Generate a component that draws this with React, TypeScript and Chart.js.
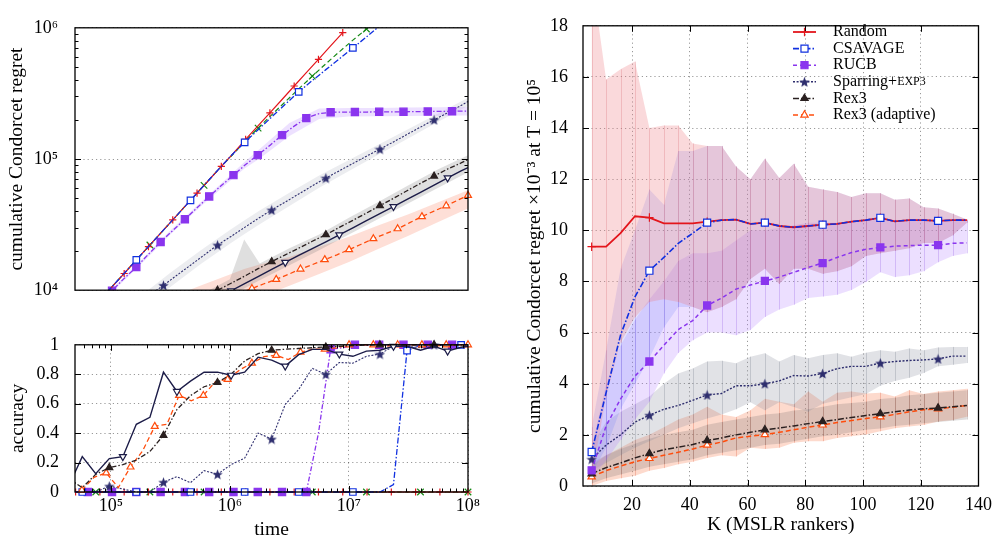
import React, { useEffect, useRef } from "react";
import { Chart, registerables } from "chart.js";
import { drawPoint } from "chart.js/helpers";

Chart.register(...registerables);

const FONT = "'Liberation Serif', 'Times New Roman', serif";

// ---------------- time grids (log10 of time) ----------------
const LOGT_C = [4.646, 4.760, 4.873, 4.987, 5.101, 5.214, 5.328, 5.442, 5.555, 5.669, 5.783, 5.896, 6.010, 6.124, 6.237, 6.351, 6.465, 6.578, 6.692, 6.806, 6.919, 7.033, 7.147, 7.260, 7.374, 7.488, 7.601, 7.715, 7.829, 7.942, 8.000];
const LOGT_F = [4.704, 4.806, 4.908, 5.010, 5.112, 5.214, 5.316, 5.418, 5.520, 5.622, 5.724, 5.826, 5.928, 6.030, 6.132, 6.234, 6.336, 6.438, 6.540, 6.642, 6.744, 6.846, 6.948, 7.050, 7.152, 7.254, 7.356, 7.458, 7.560, 7.662, 7.764, 7.866, 8.000];
const LOGT_G = [4.757, 4.859, 4.961, 5.063, 5.165, 5.267, 5.369, 5.471, 5.573, 5.675, 5.777, 5.879, 5.981, 6.083, 6.185, 6.287, 6.389, 6.491, 6.593, 6.695, 6.797, 6.899, 7.001, 7.103, 7.205, 7.307, 7.409, 7.511, 7.613, 7.715, 7.817, 7.919, 8.000];
const LOGT_BAND = [4.65, 5.0, 5.25, 5.5, 5.75, 6.0, 6.12, 6.25, 6.5, 6.75, 7.0, 7.25, 7.5, 7.75, 8.0];

// ---------------- top-left: cumulative regret ----------------
const REGRET_RANDOM = [5.25e3, 6.64e3, 8.39e3, 1.06e4, 1.34e4, 1.70e4, 2.15e4, 2.72e4, 3.44e4, 4.35e4, 5.50e4, 6.95e4, 8.79e4, 1.11e5, 1.41e5, 1.78e5, 2.25e5, 2.84e5, 3.60e5, 4.55e5, 5.75e5, 7.28e5, 9.20e5, null, null, null, null, null, null, null, null, null, null];
const REGRET_RUCB = [5.5e3, 6.6e3, 8.0e3, 9.9e3, 1.23e4, 1.50e4, 1.88e4, 2.33e4, 2.85e4, 3.47e4, 4.25e4, 5.18e4, 6.28e4, 7.53e4, 9.08e4, 1.07e5, 1.27e5, 1.52e5, 1.78e5, 2.05e5, 2.21e5, 2.27e5, 2.28e5, 2.28e5, 2.28e5, 2.29e5, 2.29e5, 2.29e5, 2.30e5, 2.30e5, 2.31e5, 2.31e5, 2.32e5];
const REGRET_CSAVAGE = [4.59e3, 5.97e3, 7.74e3, 1.01e4, 1.31e4, 1.70e4, 2.21e4, 2.87e4, 3.72e4, 4.84e4, 6.30e4, 8.17e4, 1.06e5, 1.34e5, 1.67e5, 2.09e5, 2.61e5, 3.25e5, 3.96e5, 4.80e5, 5.79e5, 7.02e5, 8.51e5, 1.04e6, null, null, null, null, null, null, null];
const REGRET_GREEN = [4.59e3, 5.97e3, 7.74e3, 1.01e4, 1.31e4, 1.70e4, 2.21e4, 2.87e4, 3.72e4, 4.84e4, 6.30e4, 8.17e4, 1.05e5, 1.35e5, 1.72e5, 2.17e5, 2.73e5, 3.42e5, 4.28e5, 5.32e5, 6.56e5, 8.05e5, 9.79e5, 1.19e6, null, null, null, null, null, null, null];
const REGRET_SPARRING = [3.2e3, 3.8e3, 4.6e3, 5.5e3, 6.5e3, 7.7e3, 9.2e3, 1.09e4, 1.30e4, 1.55e4, 1.85e4, 2.21e4, 2.57e4, 3.01e4, 3.52e4, 4.09e4, 4.70e4, 5.41e4, 6.24e4, 7.16e4, 8.13e4, 9.25e4, 1.05e5, 1.19e5, 1.35e5, 1.54e5, 1.75e5, 1.99e5, 2.25e5, 2.56e5, 2.74e5];
const REGRET_REX3 = [2.6e3, 3.0e3, 3.3e3, 3.7e3, 4.2e3, 4.7e3, 5.4e3, 6.1e3, 6.9e3, 7.8e3, 8.8e3, 9.98e3, 1.13e4, 1.28e4, 1.46e4, 1.65e4, 1.86e4, 2.09e4, 2.36e4, 2.65e4, 3.01e4, 3.41e4, 3.87e4, 4.41e4, 5.01e4, 5.73e4, 6.52e4, 7.41e4, 8.39e4, 9.33e4, 9.91e4];
const REGRET_REX3_INV = [2.2e3, 2.5e3, 2.9e3, 3.2e3, 3.7e3, 4.2e3, 4.7e3, 5.4e3, 6.0e3, 6.8e3, 7.8e3, 8.7e3, 9.9e3, 1.12e4, 1.27e4, 1.44e4, 1.63e4, 1.84e4, 2.07e4, 2.34e4, 2.64e4, 2.99e4, 3.39e4, 3.84e4, 4.34e4, 4.92e4, 5.57e4, 6.31e4, 7.18e4, 8.13e4, 8.61e4];
const REGRET_ADAPTIVE = [3.2e3, 3.5e3, 3.8e3, 4.2e3, 4.5e3, 4.9e3, 5.4e3, 5.8e3, 6.3e3, 6.9e3, 7.5e3, 8.1e3, 8.8e3, 9.5e3, 1.03e4, 1.12e4, 1.21e4, 1.32e4, 1.45e4, 1.57e4, 1.71e4, 1.86e4, 2.04e4, 2.24e4, 2.47e4, 2.69e4, 2.94e4, 3.27e4, 3.64e4, 4.01e4, 4.40e4, 4.88e4, 5.28e4];

const RUCB_HI = [5.07e3, 1.01e4, 1.68e4, 2.85e4, 4.65e4, 7.50e4, 9.44e4, 1.19e5, 1.88e5, 2.43e5, 2.45e5, 2.45e5, 2.47e5, 2.48e5, 2.50e5];
const RUCB_LO = [4.73e3, 9.44e3, 1.57e4, 2.66e4, 4.30e4, 6.81e4, 8.41e4, 1.01e5, 1.50e5, 2.02e5, 2.11e5, 2.12e5, 2.13e5, 2.14e5, 2.15e5];
const SPARRING_HI = [3.59e3, 6.24e3, 9.02e3, 1.36e4, 2.0e4, 2.88e4, 3.40e4, 4.05e4, 5.52e4, 7.48e4, 9.84e4, 1.29e5, 1.69e5, 2.22e5, 2.93e5];
const SPARRING_LO = [2.82e3, 4.9e3, 7.08e3, 1.06e4, 1.57e4, 2.26e4, 2.67e4, 3.18e4, 4.39e4, 6.03e4, 8.09e4, 1.08e5, 1.44e5, 1.92e5, 2.55e5];
const REX3_HI = [2.85e3, 4.07e3, 5.31e3, 7.0e3, 9.2e3, 1.21e4, 2.43e4, 1.60e4, 2.09e4, 2.66e4, 3.56e4, 4.73e4, 6.31e4, 8.36e4, 1.07e5];
const REX3_LO = [2.07e3, 2.99e3, 3.94e3, 5.19e3, 6.76e3, 9.02e3, 1.03e4, 1.19e4, 1.55e4, 2.02e4, 2.66e4, 3.51e4, 4.59e4, 6.05e4, 7.94e4];
const ADAPTIVE_HI = [4.37e3, 5.75e3, 7.16e3, 8.81e3, 1.08e4, 1.32e4, 1.45e4, 1.57e4, 1.79e4, 2.14e4, 2.56e4, 3.13e4, 3.80e4, 4.69e4, 5.79e4];
const ADAPTIVE_LO = [2.4e3, 3.16e3, 3.94e3, 4.84e3, 5.96e3, 7.24e3, 7.98e3, 8.83e3, 1.08e4, 1.33e4, 1.64e4, 2.07e4, 2.60e4, 3.31e4, 4.20e4];

// ---------------- bottom-left: accuracy ----------------
const ACC_RANDOM = [0, 0, 0, 0, 0, 0, 0, 0, 0, 0, 0, 0, 0, 0, 0, 0, 0, 0, 0, 0, 0, 0, 0, 0, 0, 0, 0, 0, 0, 0, 0, 0, 0];
const ACC_RUCB = [0, 0, 0, 0, 0, 0, 0, 0, 0, 0, 0, 0, 0, 0, 0, 0, 0, 0, 0, 0, 0.40, 0.97, 0.98, 1, 1, 1, 1, 1, 1, 1, 1, 1, 1];
const ACC_CSAVAGE = [0, 0, 0, 0, 0, 0, 0, 0, 0, 0, 0, 0, 0, 0, 0, 0, 0, 0, 0, 0, 0, 0, 0, 0, 0.05, 0.96, 1, 1, 1, 1, 1];
const ACC_GREEN = [0, 0, 0, 0, 0, 0, 0, 0, 0, 0, 0, 0, 0, 0, 0, 0, 0, 0, 0, 0, 0, 0, 0, 0, 0, 0, 0, 0, 0, 0, 0];
const ACC_SPARRING = [0, 0, 0, 0.04, 0.02, 0, 0, 0.067, 0.104, 0.063, 0.145, 0.121, 0.186, 0.23, 0.40, 0.36, 0.595, 0.697, 0.84, 0.80, 0.88, 0.875, 0.922, 0.937, 0.99, 0.99, 0.98, 1.0, 0.99, 1.0, 1.0];
const ACC_REX3 = [0.09, 0.03, 0.12, 0.166, 0.186, 0.217, 0.275, 0.385, 0.56, 0.655, 0.715, 0.744, 0.80, 0.89, 0.94, 0.963, 0.97, 0.975, 0.98, 0.985, 0.99, 0.995, 0.998, 1, 1, 1, 1, 1, 1, 1, 1];
const ACC_REX3_INV = [0.04, 0.24, 0.125, 0.227, 0.24, 0.46, 0.507, 0.814, 0.683, 0.753, 0.814, 0.814, 0.793, 0.814, 0.916, 0.896, 0.855, 0.933, 0.969, 0.969, 0.937, 0.922, 0.957, 0.963, 0.99, 0.99, 0.963, 0.99, 0.957, 0.983, 0.99];
const ACC_ADAPTIVE = [0.012, 0.10, 0.13, 0.03, 0.17, 0.28, 0.446, 0.46, 0.656, 0.62, 0.656, 0.75, 0.765, 0.83, 0.875, 0.92, 0.928, 0.90, 0.95, 0.97, 0.97, 0.98, 1.0, 1.0, 1.0, 0.99, 1.0, 1.0, 1.0, 0.99, 1.0, 1.0, 1.0];
const ACC_TICKS = [0, 0.2, 0.4, 0.6, 0.8, 1];
const ACC_TICK_LABELS = ["0", "0.2", "0.4", "0.6", "0.8", "1"];

// ---------------- right: regret vs K ----------------
const K_VALUES = [6, 11, 16, 21, 26, 31, 36, 41, 46, 51, 56, 61, 66, 71, 76, 81, 86, 91, 96, 101, 106, 111, 116, 121, 126, 131, 136];
const K_TICKS = [20, 40, 60, 80, 100, 120, 140];
const REG_TICKS = [0, 2, 4, 6, 8, 10, 12, 14, 16, 18];
const K_RANDOM = [9.36, 9.36, 9.89, 10.55, 10.50, 10.27, 10.27, 10.27, 10.34, 10.40, 10.42, 10.25, 10.30, 10.17, 10.12, 10.17, 10.22, 10.25, 10.34, 10.40, 10.49, 10.35, 10.40, 10.40, 10.37, 10.40, 10.40];
const K_CSAVAGE = [1.33, 3.65, 5.9, 7.4, 8.42, 8.94, 9.49, 9.89, 10.30, 10.40, 10.42, 10.25, 10.30, 10.17, 10.12, 10.17, 10.22, 10.25, 10.34, 10.40, 10.49, 10.35, 10.40, 10.40, 10.37, 10.40, 10.40];
const K_RUCB = [0.61, 2.35, 3.4, 4.3, 4.87, 5.5, 6.12, 6.47, 7.06, 7.35, 7.7, 7.86, 8.02, 8.17, 8.36, 8.55, 8.72, 8.94, 9.13, 9.26, 9.33, 9.38, 9.40, 9.42, 9.42, 9.49, 9.51];
const K_SPARRING = [1.05, 1.6, 2.0, 2.5, 2.77, 3.0, 3.15, 3.35, 3.56, 3.62, 3.92, 3.92, 4.0, 4.11, 4.32, 4.30, 4.40, 4.59, 4.68, 4.68, 4.81, 4.87, 4.91, 4.93, 4.97, 5.08, 5.08];
const K_REX3 = [0.48, 0.72, 0.9, 1.1, 1.27, 1.42, 1.52, 1.62, 1.78, 1.88, 2.0, 2.1, 2.2, 2.27, 2.35, 2.44, 2.52, 2.6, 2.68, 2.76, 2.83, 2.9, 2.97, 3.02, 3.05, 3.1, 3.15];
const K_ADAPTIVE = [0.36, 0.6, 0.78, 0.95, 1.08, 1.2, 1.32, 1.45, 1.6, 1.72, 1.88, 1.95, 2.01, 2.1, 2.2, 2.3, 2.39, 2.48, 2.56, 2.64, 2.71, 2.8, 2.9, 2.98, 3.02, 3.08, 3.15];

const K_RANDOM_HI = [20, 15.9, 16.3, 16.6, 14.0, 14.1, 14.1, 13.4, 13.3, 13.3, 12.5, 12.0, 12.8, 12.05, 12.6, 11.7, 11.6, 11.5, 11.3, 11.45, 11.45, 11.2, 11.25, 10.9, 10.85, 10.65, 10.42];
const K_RANDOM_LO = [0.3, 3.5, 5.6, 6.6, 7.2, 7.3, 7.2, 7.0, 6.8, 7.0, 7.3, 8.1, 8.5, 7.9, 8.5, 8.5, 8.3, 8.4, 8.6, 9.0, 9.1, 9.2, 9.3, 9.5, 9.5, 9.8, 10.3];
const K_CSAVAGE_HI = [2.3, 5.3, 8.5, 10.0, 11.6, 11.0, 13.1, 13.1, 13.3, 13.3, 12.5, 12.0, 12.8, 12.05, 12.6, 11.7, 11.6, 11.5, 11.3, 11.45, 11.45, 11.2, 11.25, 10.9, 10.85, 10.65, 10.42];
const K_CSAVAGE_LO = [0.5, 1.5, 3.0, 4.0, 5.0, 6.2, 7.0, 7.0, 6.8, 7.0, 7.3, 8.1, 8.5, 7.9, 8.5, 8.5, 8.3, 8.4, 8.6, 9.0, 9.1, 9.2, 9.3, 9.5, 9.5, 9.8, 10.3];
const K_RUCB_HI = [1.5, 4.0, 5.5, 6.5, 7.3, 8.0, 8.8, 9.1, 9.1, 9.2, 9.6, 10.0, 10.0, 10.1, 10.2, 10.3, 10.3, 10.3, 10.35, 10.4, 10.4, 10.4, 10.4, 10.4, 10.4, 10.4, 10.4];
const K_RUCB_LO = [0.3, 1.0, 1.8, 2.6, 3.3, 4.4, 5.2, 5.7, 6.0, 6.0, 5.9, 6.1, 6.61, 6.9, 7.09, 7.35, 7.41, 7.48, 7.67, 7.98, 8.36, 8.17, 8.24, 8.4, 8.75, 9.0, 9.1];
const K_SPARRING_HI = [1.6, 2.5, 2.9, 3.2, 3.5, 4.0, 4.4, 4.6, 4.87, 4.9, 4.8, 5.06, 5.19, 4.87, 5.12, 5.0, 5.12, 5.19, 5.06, 5.21, 5.31, 5.25, 5.38, 5.31, 5.42, 5.44, 5.44];
const K_SPARRING_LO = [0.6, 0.9, 1.2, 1.5, 1.75, 2.0, 2.26, 2.45, 2.64, 2.8, 3.0, 3.28, 2.96, 3.28, 3.09, 2.90, 3.22, 3.34, 3.47, 3.6, 3.92, 4.11, 4.23, 4.42, 4.68, 4.74, 4.81];
const K_REX3_HI = [0.9, 1.2, 1.45, 1.65, 1.85, 2.0, 2.1, 2.2, 2.4, 2.5, 2.6, 2.7, 2.8, 2.85, 2.95, 3.0, 3.1, 3.2, 3.25, 3.3, 3.4, 3.45, 3.55, 3.6, 3.65, 3.7, 3.75];
const K_REX3_LO = [0.1, 0.3, 0.45, 0.6, 0.75, 0.85, 0.95, 1.05, 1.2, 1.3, 1.4, 1.5, 1.6, 1.65, 1.75, 1.85, 1.95, 2.0, 2.1, 2.2, 2.25, 2.35, 2.4, 2.45, 2.5, 2.55, 2.6];
const K_ADAPTIVE_HI = [0.8, 1.2, 1.5, 1.8, 2.0, 2.3, 2.6, 2.8, 3.1, 2.8, 2.7, 2.96, 3.41, 3.3, 3.2, 3.7, 3.3, 3.65, 3.7, 3.62, 3.65, 3.5, 3.75, 3.6, 3.7, 3.75, 3.8];
const K_ADAPTIVE_LO = [0.0, 0.2, 0.3, 0.4, 0.6, 0.7, 0.85, 0.95, 1.1, 1.2, 1.15, 1.5, 1.45, 1.5, 1.69, 1.75, 1.75, 1.88, 1.95, 2.01, 2.14, 2.26, 2.33, 2.39, 2.52, 2.58, 2.71];

// ---------------- styling ----------------
const RED = "#e3161c";
const GREEN = "#178a17";
const BLUE = "#1030e0";
const PURPLE = "#8a35ee";
const NAVY = "#2e2e6e";
const DARK = "#2a2020";
const NAVY2 = "#1c1c48";
const ORANGE = "#ff4d0d";

const SUP = "⁰¹²³⁴⁵⁶⁷⁸⁹";
const pow10Label = (v: number) =>
  "10" + String(Math.round(Math.log10(v))).split("").map((d) => SUP[+d]).join("");

const tickFont = { family: FONT, size: 18 };
const titleFont = { family: FONT, size: 19.5 };
const GRID = { color: "rgba(0,0,0,0.4)", lineWidth: 1, drawTicks: false };
const BORDER = { display: false, dash: [1.2, 3] };

const px = (logt: number[], vals: (number | null)[]) =>
  logt.map((lt, i) => ({ x: Math.pow(10, lt), y: vals[i] }));
const kx = (vals: number[]) => K_VALUES.map((k, i) => ({ x: k, y: vals[i] }));

function makeStar(color: string, size = 12) {
  const c = document.createElement("canvas");
  c.width = size;
  c.height = size;
  const g = c.getContext("2d")!;
  const cx = size / 2, cy = size / 2 + 0.6, R = size / 2, r = R * 0.42;
  g.beginPath();
  for (let i = 0; i < 10; i++) {
    const a = -Math.PI / 2 + (i * Math.PI) / 5;
    const rr = i % 2 === 0 ? R : r;
    g.lineTo(cx + rr * Math.cos(a), cy + rr * Math.sin(a));
  }
  g.closePath();
  g.fillStyle = color;
  g.fill();
  return c;
}

function lineDs(label: string, data: any[], s: any, every: number, phase: number, clip: any) {
  return {
    label,
    data,
    borderColor: s.color,
    borderWidth: s.width,
    borderDash: s.dash,
    pointStyle: s.style,
    pointRotation: s.rot || 0,
    pointBackgroundColor: s.fill,
    pointBorderColor: s.color,
    pointBorderWidth: 1.2,
    pointRadius: (c: any) => (c.dataIndex % every === phase ? s.r : 0),
    tension: 0,
    fill: false,
    order: 0,
    clip,
  };
}

function band(hi: any[], lo: any[], color: string, vline?: string) {
  return [
    { label: "", data: hi, fill: "+1", backgroundColor: color, borderColor: "transparent", borderWidth: 0, pointRadius: 0, order: 5, vline },
    { label: "", data: lo, fill: false, borderColor: "transparent", borderWidth: 0, pointRadius: 0, order: 5 },
  ];
}

const frameTicks = {
  id: "frameTicks",
  afterDraw(chart: any, _a: any, o: any) {
    const { ctx, chartArea: a, scales } = chart;
    const xs = scales.x, ys = scales.y;
    ctx.save();
    ctx.strokeStyle = "#000";
    ctx.lineWidth = 1;
    const seg = (x1: number, y1: number, x2: number, y2: number) => {
      ctx.beginPath();
      ctx.moveTo(x1, y1);
      ctx.lineTo(x2, y2);
      ctx.stroke();
    };
    const doX = (vals: number[], len: number) =>
      vals.forEach((v) => {
        const p = Math.round(xs.getPixelForValue(v)) + 0.5;
        seg(p, a.bottom, p, a.bottom - len);
        seg(p, a.top, p, a.top + len);
      });
    const doY = (vals: number[], len: number) =>
      vals.forEach((v) => {
        const p = Math.round(ys.getPixelForValue(v)) + 0.5;
        seg(a.left, p, a.left + len, p);
        seg(a.right, p, a.right - len, p);
      });
    doX(o.xMajor || [], 6);
    doX(o.xMinor || [], 3.5);
    doY(o.yMajor || [], 6);
    doY(o.yMinor || [], 3.5);
    ctx.lineWidth = 1.3;
    ctx.strokeRect(a.left, a.top, a.right - a.left, a.bottom - a.top);
    ctx.restore();
  },
};

const bandLines = {
  id: "bandLines",
  afterDatasetDraw(chart: any, args: any) {
    const ds = chart.data.datasets[args.index];
    if (!ds || !ds.vline) return;
    const hi = args.meta.data;
    const lo = chart.getDatasetMeta(args.index + 1).data;
    const { ctx, chartArea: a } = chart;
    ctx.save();
    ctx.beginPath();
    ctx.rect(a.left, a.top, a.right - a.left, a.bottom - a.top);
    ctx.clip();
    ctx.strokeStyle = ds.vline;
    ctx.lineWidth = 1;
    for (let i = 0; i < hi.length; i++) {
      if (!hi[i] || !lo[i]) continue;
      const x = Math.round(hi[i].x) + 0.5;
      ctx.beginPath();
      ctx.moveTo(x, hi[i].y);
      ctx.lineTo(x, lo[i].y);
      ctx.stroke();
    }
    ctx.restore();
  },
};

const customLegend = {
  id: "customLegend",
  afterDraw(chart: any, _a: any, o: any) {
    if (!o || !o.items) return;
    const { ctx } = chart;
    o.items.forEach((it: any, i: number) => {
      const y = o.y0 + i * o.dy;
      ctx.save();
      ctx.strokeStyle = it.s.color;
      ctx.lineWidth = it.s.width;
      ctx.setLineDash(it.s.dash);
      ctx.beginPath();
      ctx.moveTo(o.x0, y);
      ctx.lineTo(o.x0 + o.len, y);
      ctx.stroke();
      ctx.setLineDash([]);
      ctx.fillStyle = it.s.fill || it.s.color;
      ctx.strokeStyle = it.s.color;
      ctx.lineWidth = 1.2;
      drawPoint(ctx, { pointStyle: it.s.style, radius: it.s.r, rotation: it.s.rot || 0, borderWidth: 1.2 } as any, o.x0 + o.len / 2, y);
      ctx.fillStyle = "#000";
      ctx.textBaseline = "middle";
      ctx.textAlign = "left";
      let x = o.tx;
      it.parts.forEach((p: [string, number]) => {
        ctx.font = `${p[1]}px ${FONT}`;
        ctx.fillText(p[0], x, y);
        x += ctx.measureText(p[0]).width;
      });
      ctx.restore();
    });
  },
};

const minorLog = (decades: number[], from: number, to: number) => {
  const out: number[] = [];
  decades.forEach((d) => {
    for (let m = 2; m <= 9; m++) {
      const v = m * d;
      if (v > from && v < to) out.push(v);
    }
  });
  return out;
};

const logX = (showLabels: boolean, height: number) => ({
  type: "logarithmic",
  min: 5e4,
  max: 1e8,
  afterBuildTicks: (s: any) => {
    s.ticks = [1e5, 1e6, 1e7, 1e8].map((v) => ({ value: v }));
  },
  afterFit: (s: any) => {
    s.height = height;
  },
  ticks: { display: showLabels, font: tickFont, color: "#000", padding: 3, maxRotation: 0, autoSkip: false, callback: (v: any) => pow10Label(Number(v)) },
  grid: { ...GRID, display: showLabels },
  border: BORDER,
  title: { display: showLabels, text: "time", font: titleFont, color: "#000", padding: { top: 0, bottom: 0 } },
});

const baseOptions = {
  animation: false,
  responsive: false,
  devicePixelRatio: 1,
  events: [],
};

function topConfig(S: any): any {
  const clip = { left: 0, top: 0, right: 6, bottom: 0 };
  return {
    type: "line",
    data: {
      datasets: [
        lineDs("CSAVAGE", px(LOGT_C, REGRET_CSAVAGE), S.csavage, 4, 1, clip),
        lineDs("Random", px(LOGT_F, REGRET_RANDOM), S.random, 2, 0, clip),
        lineDs("Random (other)", px(LOGT_C, REGRET_GREEN), S.green, 4, 2, clip),
        lineDs("RUCB", px(LOGT_F, REGRET_RUCB), S.rucb, 2, 1, clip),
        lineDs("Sparring+EXP3", px(LOGT_C, REGRET_SPARRING), S.sparring, 4, 3, clip),
        lineDs("Rex3", px(LOGT_C, REGRET_REX3), S.rex3, 4, 3, clip),
        lineDs("Rex3 (variant)", px(LOGT_C, REGRET_REX3_INV), S.inv, 4, 0, clip),
        lineDs("Rex3 (adaptive)", px(LOGT_G, REGRET_ADAPTIVE), S.adaptive, 2, 0, clip),
        ...band(px(LOGT_BAND, RUCB_HI), px(LOGT_BAND, RUCB_LO), "rgba(175,120,255,0.22)"),
        ...band(px(LOGT_BAND, SPARRING_HI), px(LOGT_BAND, SPARRING_LO), "rgba(150,155,170,0.18)"),
        ...band(px(LOGT_BAND, REX3_HI), px(LOGT_BAND, REX3_LO), "rgba(110,110,110,0.22)"),
        ...band(px(LOGT_BAND, ADAPTIVE_HI), px(LOGT_BAND, ADAPTIVE_LO), "rgba(250,140,110,0.28)"),
      ],
    },
    options: {
      ...baseOptions,
      layout: { padding: { top: 25, right: 22, left: 0, bottom: 0 } },
      plugins: {
        legend: { display: false },
        tooltip: { enabled: false },
        frameTicks: { yMajor: [1e5], yMinor: minorLog([1e4, 1e5], 1e4, 1e6) },
      },
      scales: {
        x: logX(false, 8),
        y: {
          type: "logarithmic",
          min: 1e4,
          max: 1e6,
          afterBuildTicks: (s: any) => {
            s.ticks = [1e4, 1e5, 1e6].map((v) => ({ value: v }));
          },
          afterFit: (s: any) => {
            s.width = 75;
          },
          ticks: { font: tickFont, color: "#000", padding: 17, callback: (v: any) => pow10Label(Number(v)) },
          grid: GRID,
          border: BORDER,
          title: { display: true, text: "cumulative Condorcet regret", font: titleFont, color: "#000", padding: { top: 5, bottom: 0 } },
        },
      },
    },
    plugins: [frameTicks, bandLines],
  };
}

function bottomConfig(S: any): any {
  const clip = { left: 0, top: 8, right: 8, bottom: 8 };
  return {
    type: "line",
    data: {
      datasets: [
        lineDs("Rex3 (variant)", px(LOGT_C, ACC_REX3_INV), S.inv, 4, 0, clip),
        lineDs("Rex3", px(LOGT_C, ACC_REX3), S.rex3, 4, 3, clip),
        lineDs("Rex3 (adaptive)", px(LOGT_G, ACC_ADAPTIVE), S.adaptive, 2, 0, clip),
        lineDs("Sparring+EXP3", px(LOGT_C, ACC_SPARRING), S.sparring, 4, 3, clip),
        lineDs("CSAVAGE", px(LOGT_C, ACC_CSAVAGE), S.csavage, 4, 1, clip),
        lineDs("RUCB", px(LOGT_F, ACC_RUCB), S.rucb, 2, 1, clip),
        lineDs("Random", px(LOGT_F, ACC_RANDOM), S.random, 2, 0, clip),
        lineDs("Random (other)", px(LOGT_C, ACC_GREEN), S.green, 4, 2, clip),
      ],
    },
    options: {
      ...baseOptions,
      layout: { padding: { top: 11, right: 22, left: 0, bottom: 0 } },
      plugins: {
        legend: { display: false },
        tooltip: { enabled: false },
        frameTicks: {
          xMajor: [1e5, 1e6, 1e7],
          xMinor: minorLog([1e4, 1e5, 1e6, 1e7], 5e4, 1e8),
          yMajor: [0.2, 0.4, 0.6, 0.8],
        },
      },
      scales: {
        x: logX(true, 50),
        y: {
          type: "linear",
          min: 0,
          max: 1,
          afterBuildTicks: (s: any) => {
            s.ticks = ACC_TICKS.map((v) => ({ value: v }));
          },
          afterFit: (s: any) => {
            s.width = 75;
          },
          ticks: { font: tickFont, color: "#000", padding: 16, callback: (_v: any, i: number) => ACC_TICK_LABELS[i] },
          grid: GRID,
          border: BORDER,
          title: { display: true, text: "accuracy", font: titleFont, color: "#000", padding: { top: 6, bottom: 0 } },
        },
      },
    },
    plugins: [frameTicks],
  };
}

function rightConfig(R: any): any {
  const clip = { left: 2, top: 0, right: 2, bottom: 2 };
  return {
    type: "line",
    data: {
      datasets: [
        lineDs("CSAVAGE", kx(K_CSAVAGE), R.csavage, 4, 0, clip),
        lineDs("Random", kx(K_RANDOM), R.random, 4, 0, clip),
        lineDs("RUCB", kx(K_RUCB), R.rucb, 4, 0, clip),
        lineDs("Sparring+EXP3", kx(K_SPARRING), R.sparring, 4, 0, clip),
        lineDs("Rex3", kx(K_REX3), R.rex3, 4, 0, clip),
        lineDs("Rex3 (adaptive)", kx(K_ADAPTIVE), R.adaptive, 4, 0, clip),
        ...band(kx(K_RANDOM_HI), kx(K_RANDOM_LO), "rgba(238,130,135,0.3)", "rgba(215,110,120,0.3)"),
        ...band(kx(K_CSAVAGE_HI), kx(K_CSAVAGE_LO), "rgba(105,120,250,0.2)", "rgba(95,100,220,0.25)"),
        ...band(kx(K_RUCB_HI), kx(K_RUCB_LO), "rgba(175,120,255,0.24)", "rgba(150,95,230,0.3)"),
        ...band(kx(K_SPARRING_HI), kx(K_SPARRING_LO), "rgba(135,140,155,0.25)", "rgba(120,125,140,0.3)"),
        ...band(kx(K_REX3_HI), kx(K_REX3_LO), "rgba(110,100,100,0.22)", "rgba(100,90,90,0.28)"),
        ...band(kx(K_ADAPTIVE_HI), kx(K_ADAPTIVE_LO), "rgba(250,140,100,0.32)", "rgba(225,110,80,0.35)"),
      ],
    },
    options: {
      ...baseOptions,
      layout: { padding: { top: 14, right: 18, left: 0, bottom: 0 } },
      plugins: {
        legend: { display: false },
        tooltip: { enabled: false },
        frameTicks: { xMajor: [20, 40, 60, 80, 100, 120], yMajor: [2, 4, 6, 8, 10, 12, 14, 16] },
        customLegend: {
          x0: 303,
          len: 23,
          tx: 343,
          y0: 32,
          dy: 16.6,
          items: [
            { s: R.random, parts: [["Random", 16]] },
            { s: R.csavage, parts: [["CSAVAGE", 16]] },
            { s: R.rucb, parts: [["RUCB", 16]] },
            { s: R.sparring, parts: [["Sparring+", 16], ["EXP3", 12]] },
            { s: R.rex3, parts: [["Rex3", 16]] },
            { s: R.adaptive, parts: [["Rex3 (adaptive)", 16]] },
          ],
        },
      },
      scales: {
        x: {
          type: "linear",
          min: 3,
          max: 140,
          afterBuildTicks: (s: any) => {
            s.ticks = K_TICKS.map((v) => ({ value: v }));
          },
          afterFit: (s: any) => {
            s.height = 56;
          },
          ticks: { font: tickFont, color: "#000", padding: 8, maxRotation: 0, autoSkip: false },
          grid: GRID,
          border: BORDER,
          title: { display: true, text: "K (MSLR rankers)", font: titleFont, color: "#000", padding: { top: 0, bottom: 5 } },
        },
        y: {
          type: "linear",
          min: 0,
          max: 18,
          afterBuildTicks: (s: any) => {
            s.ticks = REG_TICKS.map((v) => ({ value: v }));
          },
          afterFit: (s: any) => {
            s.width = 93;
          },
          ticks: { font: tickFont, color: "#000", padding: 15 },
          grid: GRID,
          border: BORDER,
          title: { display: true, text: "cumulative Condorcet regret ×10⁻³ at T = 10⁵", font: titleFont, color: "#000", padding: { top: 33, bottom: 0 } },
        },
      },
    },
    plugins: [frameTicks, bandLines, customLegend],
  };
}

export default function App() {
  const r1 = useRef<HTMLCanvasElement>(null);
  const r2 = useRef<HTMLCanvasElement>(null);
  const r3 = useRef<HTMLCanvasElement>(null);

  useEffect(() => {
    const star = makeStar(NAVY, 11);
    const S = {
      random: { color: RED, dash: [], width: 1.2, style: "cross", fill: RED, r: 3.6 },
      green: { color: GREEN, dash: [5, 3], width: 1.2, style: "crossRot", fill: GREEN, r: 4.6 },
      csavage: { color: BLUE, dash: [6, 2, 1.5, 2], width: 1.3, style: "rect", fill: "#fff", r: 4.6 },
      rucb: { color: PURPLE, dash: [5, 2, 1.5, 2], width: 1.3, style: "rect", fill: PURPLE, r: 5.1 },
      sparring: { color: NAVY, dash: [2, 1.5], width: 1.1, style: star, fill: NAVY, r: 5 },
      rex3: { color: DARK, dash: [5, 2, 1.5, 2], width: 1.3, style: "triangle", fill: DARK, r: 4 },
      inv: { color: NAVY2, dash: [], width: 1.4, style: "triangle", rot: 180, fill: "#fff", r: 4 },
      adaptive: { color: ORANGE, dash: [5, 3], width: 1.3, style: "triangle", fill: "#fff", r: 4 },
    };
    const R = {
      random: { color: RED, dash: [], width: 1.8, style: "cross", fill: RED, r: 4.2 },
      csavage: { color: BLUE, dash: [6, 2, 1.5, 2], width: 1.6, style: "rect", fill: "#fff", r: 5 },
      rucb: { color: PURPLE, dash: [4, 3], width: 1.5, style: "rect", fill: PURPLE, r: 5 },
      sparring: { color: NAVY, dash: [2, 1.6], width: 1.4, style: star, fill: NAVY, r: 5 },
      rex3: { color: DARK, dash: [6, 2, 1.5, 2], width: 1.5, style: "triangle", fill: DARK, r: 4.2 },
      adaptive: { color: ORANGE, dash: [5, 3], width: 1.5, style: "triangle", fill: "#fff", r: 4.2 },
    };
    const charts = [
      new Chart(r1.current!, topConfig(S)),
      new Chart(r2.current!, bottomConfig(S)),
      new Chart(r3.current!, rightConfig(R)),
    ];
    return () => charts.forEach((c) => c.destroy());
  }, []);

  return (
    <div style={{ position: "fixed", left: 0, top: 0, width: 1000, height: 542, background: "#fff", overflow: "hidden" }}>
      <canvas ref={r1} width={490} height={318} style={{ position: "absolute", left: 0, top: 0, width: 490, height: 318 }} />
      <canvas ref={r2} width={490} height={224} style={{ position: "absolute", left: 0, top: 318, width: 490, height: 224 }} />
      <canvas ref={r3} width={510} height={542} style={{ position: "absolute", left: 490, top: 0, width: 510, height: 542 }} />
    </div>
  );
}
